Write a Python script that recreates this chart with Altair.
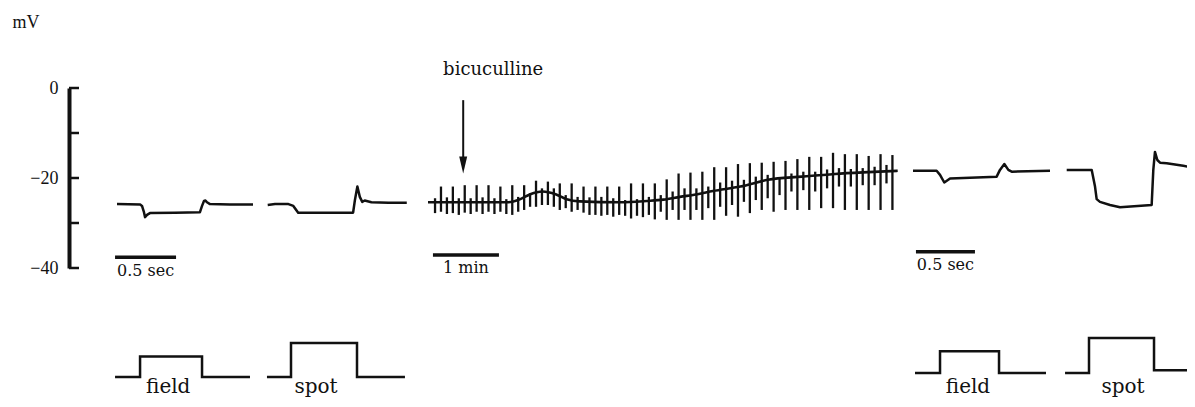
import altair as alt
import pandas as pd

# ---------------- values ----------------
# Control responses before bicuculline: time (s) from trace start, membrane potential (mV)
FIELD_CTRL_T = [0.0, 0.19, 0.205, 0.221, 0.23, 0.246, 0.27, 0.475, 0.68, 0.697, 0.713, 0.725, 0.738, 0.762, 0.926, 1.115]
FIELD_CTRL_MV = [-25.8, -25.9, -26.2, -27.6, -28.7, -28.2, -27.8, -27.7, -27.6, -26.2, -25.1, -25.0, -25.4, -25.8, -25.9, -25.9]
SPOT_CTRL_T = [0.0, 0.06, 0.17, 0.21, 0.25, 0.70, 0.715, 0.735, 0.755, 0.775, 0.795, 0.85, 0.99, 1.14]
SPOT_CTRL_MV = [-26.0, -25.8, -25.8, -26.2, -27.7, -27.7, -24.9, -21.9, -24.2, -25.3, -25.0, -25.4, -25.5, -25.5]

# Slow chart record: resting potential (time s, mV)
BIC_T = [0, 73, 84, 93, 104, 116, 126, 138, 175, 199, 214, 229, 245, 259, 284, 309, 340, 370, 400, 427]
BIC_MV = [-25.4, -25.4, -24.7, -23.6, -23.0, -23.6, -24.7, -25.2, -25.4, -25.1, -24.8, -24.2, -23.6,
          -22.9, -21.9, -20.4, -19.7, -19.1, -18.7, -18.4]
# Responses to alternating field / spot stimuli on the slow record (time s, peak and trough mV)
RESP_T = [6.4, 11.8, 17.2, 22.6, 28.0, 33.4, 38.8, 44.2, 49.6, 55.0, 60.4, 65.8, 71.2, 76.6, 82.0, 87.4,
          92.8, 98.2, 103.6, 109.0, 114.4, 119.8, 125.2, 130.6, 136.0, 141.4, 146.8, 152.2, 157.6, 163.0,
          168.4, 173.8, 179.2, 184.6, 190.0, 195.4, 200.8, 206.2, 211.6, 217.0, 222.4, 227.8, 233.2, 238.6,
          244.0, 249.4, 254.8, 260.2, 265.6, 271.0, 276.4, 281.8, 287.2, 292.6, 298.0, 303.4, 308.8, 314.2,
          319.6, 325.0, 330.4, 335.8, 341.2, 346.6, 352.0, 357.4, 362.8, 368.2, 373.6, 379.0, 384.4, 389.8,
          395.2, 400.6, 406.0, 411.4, 416.8, 422.2]
RESP_TOP = [-24.5, -21.9, -24.3, -21.9, -24.5, -21.6, -24.5, -21.6, -24.3, -21.6,
            -24.5, -21.9, -24.7, -21.6, -24.2, -21.6, -23.4, -20.6, -22.3, -20.8,
            -22.3, -21.2, -23.8, -21.2, -24.2, -21.9, -24.3, -21.9, -24.2, -21.9,
            -24.5, -21.9, -24.9, -21.2, -24.7, -21.2, -24.2, -21.2, -23.8, -20.3,
            -23.0, -19.0, -22.3, -18.8, -22.3, -18.6, -21.9, -17.6, -21.0, -17.6,
            -20.6, -16.9, -20.4, -16.7, -19.7, -16.6, -19.3, -16.4, -20.1, -16.2,
            -19.0, -15.8, -18.6, -15.3, -18.6, -15.3, -18.1, -14.4, -17.8, -14.7,
            -18.0, -14.7, -17.8, -15.1, -17.5, -14.7, -17.1, -14.9]
RESP_BOTTOM = [-27.8, -27.5, -28.0, -27.8, -28.2, -27.7, -28.0, -27.5, -28.0, -27.5,
               -28.0, -27.5, -28.0, -28.2, -27.5, -27.1, -26.4, -26.4, -26.0, -26.0,
               -26.4, -27.1, -26.7, -27.5, -27.1, -27.7, -28.2, -28.2, -28.4, -28.2,
               -28.6, -28.2, -28.4, -29.0, -28.4, -28.7, -28.2, -29.2, -27.5, -29.3,
               -27.1, -29.3, -27.1, -29.3, -27.1, -29.3, -26.7, -29.3, -26.4, -28.4,
               -26.0, -28.6, -25.3, -27.8, -24.9, -27.1, -24.5, -27.5, -23.8, -27.1,
               -23.0, -27.1, -22.7, -27.1, -23.0, -26.7, -22.3, -26.7, -21.9, -27.1,
               -21.9, -27.1, -21.6, -27.1, -21.6, -27.1, -21.2, -27.1]
BIC_ONSET_T = 32.0
BIC_LABEL = "bicuculline"

# Responses after bicuculline (time s, mV)
FIELD_BIC_T = [0.0, 0.2, 0.229, 0.265, 0.314, 0.709, 0.737, 0.774, 0.808, 0.836, 1.161]
FIELD_BIC_MV = [-18.4, -18.4, -19.3, -21.0, -20.1, -19.7, -18.2, -16.9, -18.2, -18.6, -18.4]
SPOT_BIC_T = [0.0, 0.212, 0.24, 0.254, 0.282, 0.367, 0.452, 0.72, 0.734, 0.748, 0.768, 0.791, 0.847, 0.988, 1.087]
SPOT_BIC_MV = [-18.2, -18.2, -21.9, -24.7, -25.3, -26.0, -26.5, -26.0, -18.2, -14.2, -16.0, -16.6, -16.7, -17.3, -17.7]

# Light stimulus protocol (time s, relative intensity)
STIM_PANEL = ["field_ctrl", "spot_ctrl", "field_bic", "spot_bic"]
STIM_ROW = ["ctrl", "ctrl", "bic", "bic"]
STIM_NAME = ["field", "spot", "field", "spot"]
STIM_START = [-0.016, -0.006, 0.017, -0.014]
STIM_ON = [0.189, 0.191, 0.229, 0.189]
STIM_OFF = [0.697, 0.732, 0.729, 0.74]
STIM_END = [1.09, 1.125, 1.127, 1.087]
STIM_LEVEL = [0.6, 1.0, 0.62, 1.0]
STIM_REST_AFTER = [0.0, 0.0, 0.0, 0.08]
STIM_LABEL_T = [0.42, 0.396, 0.466, 0.477]

# Calibration bars
BAR_PANEL = ["field_ctrl", "bic", "field_bic"]
BAR_START = [-0.016, 4.5, 0.025]
BAR_LEN = [0.5, 60.0, 0.5]
BAR_TEXT = ["0.5 sec", "1 min", "0.5 sec"]

# Potential axis
Y_TICKS = [0, -10, -20, -30, -40]
Y_LABELS = [0, -20, -40]
Y_TITLE = "mV"

# ---------------- layout / style (not data) ----------------
PLOT_W, PLOT_H = 1179, 391
PANEL_X0 = {"field_ctrl": 109.0, "spot_ctrl": 259.7, "bic": 420.0, "field_bic": 905.0, "spot_bic": 1058.7}
PANEL_PX = {"field_ctrl": 122.0, "spot_ctrl": 122.0, "bic": 1.1, "field_bic": 118.0, "spot_bic": 118.0}
BAR_Y_MV = [-37.6, -37.1, -36.4]
ARROW_TOP_MV, ARROW_SHAFT_END_MV, ARROW_HEAD_MV, LABEL_MV = -2.7, -16.0, -17.1, 2.9
AXIS_X = 61
INK = "#111111"
SERIF_NUM = "Liberation Serif"
SERIF_TXT = "DejaVu Serif"


def px(panel, t):
    return PANEL_X0[panel] + t * PANEL_PX[panel]


# ---------------- tables ----------------
rows = []
for name, T, V in [("field_ctrl", FIELD_CTRL_T, FIELD_CTRL_MV), ("spot_ctrl", SPOT_CTRL_T, SPOT_CTRL_MV),
                   ("field_bic", FIELD_BIC_T, FIELD_BIC_MV), ("spot_bic", SPOT_BIC_T, SPOT_BIC_MV)]:
    for i, (t, v) in enumerate(zip(T, V)):
        rows.append({"trace": name, "i": i, "x": px(name, t), "mv": v})
traces = pd.DataFrame(rows)

slow = pd.DataFrame({"x": [px("bic", t) for t in BIC_T], "mv": BIC_MV})
resp = pd.DataFrame({"x": [px("bic", t) for t in RESP_T], "top": RESP_TOP, "bottom": RESP_BOTTOM})
axt = pd.DataFrame({"v": Y_TICKS})
arrow = pd.DataFrame({"x": [px("bic", BIC_ONSET_T)], "y0": [ARROW_TOP_MV], "y1": [ARROW_SHAFT_END_MV],
                      "yh": [ARROW_HEAD_MV], "yl": [LABEL_MV], "text": [BIC_LABEL]})
bars = pd.DataFrame({
    "x": [px(p, s) for p, s in zip(BAR_PANEL, BAR_START)],
    "x2": [px(p, s + l) for p, s, l in zip(BAR_PANEL, BAR_START, BAR_LEN)],
    "xm": [px(p, s + l / 2) for p, s, l in zip(BAR_PANEL, BAR_START, BAR_LEN)],
    "y": BAR_Y_MV, "text": BAR_TEXT})

stim_rows, lab_rows = [], []
for k in range(len(STIM_PANEL)):
    p = STIM_PANEL[k]
    pts = [(STIM_START[k], 0.0), (STIM_ON[k], 0.0), (STIM_ON[k], STIM_LEVEL[k]), (STIM_OFF[k], STIM_LEVEL[k]),
           (STIM_OFF[k], STIM_REST_AFTER[k]), (STIM_END[k], STIM_REST_AFTER[k])]
    for i, (t, lv) in enumerate(pts):
        stim_rows.append({"row": STIM_ROW[k], "stim": p, "i": i, "x": px(p, t), "level": lv})
    lab_rows.append({"row": STIM_ROW[k], "x": px(p, STIM_LABEL_T[k]), "level": 0.0, "text": STIM_NAME[k]})
stim = pd.DataFrame(stim_rows)
stim_lab = pd.DataFrame(lab_rows)

# ---------------- scales ----------------
XS = alt.Scale(domain=[0, PLOT_W], nice=False, zero=False)
MVS = alt.Scale(domain=[-40, 0], range=[260, 80], nice=False, zero=False)
ST_CTRL = alt.Scale(domain=[0, 1], range=[369, 335], nice=False, zero=False)
ST_BIC = alt.Scale(domain=[0, 1], range=[365, 330], nice=False, zero=False)

YAX = alt.Axis(values=Y_LABELS, offset=-AXIS_X, ticks=False, grid=False, domain=True,
               domainColor=INK, domainWidth=4, labelFont=SERIF_NUM, labelFontSize=18,
               labelColor=INK, labelPadding=11, labelFlush=False, labelOverlap=False,
               title=Y_TITLE, titleAngle=0, titleFont=SERIF_NUM, titleFontSize=18,
               titleFontWeight="normal", titleColor=INK, titleAlign="left",
               titleBaseline="middle", titleX=-57, titleY=14)


def X(f="x"):
    return alt.X(f"{f}:Q", scale=XS, axis=None)


def YM(f):
    return alt.Y(f"{f}:Q", scale=MVS, axis=YAX)


traces_ch = alt.Chart(traces).mark_line(color=INK, strokeWidth=2.5, strokeJoin="round").encode(
    x=X(), y=YM("mv"), detail="trace:N", order="i:Q")
slow_ch = alt.Chart(slow).mark_line(color=INK, strokeWidth=2.6, interpolate="monotone").encode(
    x=X(), y=YM("mv"))
resp_ch = alt.Chart(resp).mark_rule(color=INK, strokeWidth=2.3).encode(
    x=X(), y=YM("top"), y2="bottom:Q")
axt_ch = alt.Chart(axt).mark_rule(color=INK, strokeWidth=2.5).encode(
    x=alt.value(AXIS_X), x2=alt.value(AXIS_X + 10), y=YM("v"))
arrow_rule = alt.Chart(arrow).mark_rule(color=INK, strokeWidth=2).encode(
    x=X(), y=YM("y0"), y2="y1:Q")
arrow_head = alt.Chart(arrow).mark_point(shape="M-0.47,-1L0.47,-1L0,1Z", filled=True, size=289,
                                         color=INK, opacity=1, strokeWidth=0).encode(x=X(), y=YM("yh"))
arrow_text = alt.Chart(arrow).mark_text(font=SERIF_TXT, fontSize=18, color=INK, align="center",
                                        baseline="alphabetic", dx=30).encode(x=X(), y=YM("yl"), text="text:N")
bar_rule = alt.Chart(bars).mark_rule(color=INK, strokeWidth=3.5).encode(x=X(), x2="x2:Q", y=YM("y"))
bar_text = alt.Chart(bars).mark_text(font=SERIF_TXT, fontSize=16, color=INK, align="center",
                                     baseline="alphabetic", dy=18.5).encode(x=X("xm"), y=YM("y"), text="text:N")

mv_layer = alt.layer(traces_ch, slow_ch, resp_ch, axt_ch, arrow_rule, arrow_head, arrow_text, bar_rule, bar_text)


def stim_layer(row, scale, dy):
    line = alt.Chart(stim[stim["row"] == row]).mark_line(color=INK, strokeWidth=2.5).encode(
        x=X(), y=alt.Y("level:Q", scale=scale, axis=None), detail="stim:N", order="i:Q")
    txt = alt.Chart(stim_lab[stim_lab["row"] == row]).mark_text(
        font=SERIF_TXT, fontSize=20, color=INK, align="center", baseline="alphabetic", dy=dy).encode(
        x=X(), y=alt.Y("level:Q", scale=scale, axis=None), text="text:N")
    return alt.layer(line, txt)


chart = alt.layer(mv_layer, stim_layer("ctrl", ST_CTRL, 16), stim_layer("bic", ST_BIC, 20)).resolve_scale(
    y="independent").properties(
    width=PLOT_W, height=PLOT_H, autosize=alt.AutoSizeParams(type="none"), padding=0,
    background="white").configure_view(stroke=None).configure_axis(
    labelFont=SERIF_NUM, labelFontSize=18, titleFont=SERIF_NUM, titleFontSize=18)

chart.save("out.html", embed_options={"renderer": "svg", "actions": False})
